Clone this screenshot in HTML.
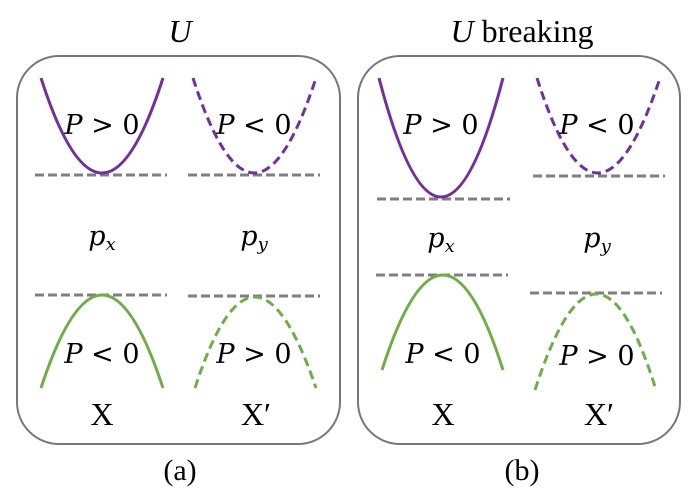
<!DOCTYPE html>
<html><head><style>body{margin:0;background:#fff}</style></head><body>
<svg width="697" height="499" viewBox="0 0 697 499" xmlns="http://www.w3.org/2000/svg">
<g font-family="Liberation Serif, serif" fill="#000">
<text x="180" y="42" font-size="32" font-style="italic" text-anchor="middle">U</text>
<text x="522" y="42" font-size="32" text-anchor="middle"><tspan font-style="italic">U</tspan> breaking</text>
<text x="180" y="480" font-size="30" text-anchor="middle">(a)</text>
<text x="522" y="480" font-size="30" text-anchor="middle">(b)</text>
</g>
<rect x="17" y="56" width="323" height="388" rx="42" fill="none" stroke="#777" stroke-width="2"/>
<rect x="358" y="56" width="322" height="388" rx="42" fill="none" stroke="#777" stroke-width="2"/>
<g fill="none" stroke-width="3">
<g stroke="#7f7f7f" stroke-dasharray="9,4">
<line x1="35" y1="175" x2="167" y2="175"/><line x1="188" y1="175" x2="320" y2="175"/>
<line x1="35" y1="295" x2="167" y2="295"/><line x1="188" y1="296" x2="320" y2="296"/>
<line x1="377" y1="199" x2="510" y2="199"/><line x1="533" y1="176" x2="665" y2="176"/>
<line x1="376" y1="275" x2="508" y2="275"/><line x1="530" y1="293" x2="662" y2="293"/>
</g>
<g stroke="#7030a0">
<path d="M41 78 Q102 268 163 78"/>
<path d="M193 78 Q254 268 316 78" stroke-dasharray="9,5"/>
<path d="M379 78 Q441 316 503 78"/>
<path d="M537 78 Q597 268 660 78" stroke-dasharray="9,5"/>
</g>
<g stroke="#70ad47">
<path d="M41 388 Q102 202 163 388"/>
<path d="M195 388 Q254 206 316 388" stroke-dasharray="9,5"/>
<path d="M382 370 Q443 180 503 370"/>
<path d="M535 390 Q597 198 656 390" stroke-dasharray="9,5"/>
</g>
</g>
<g font-family="DejaVu Serif, Liberation Serif, serif" font-size="27" text-anchor="middle" fill="#000">
<text x="102" y="134"><tspan font-style="italic">P</tspan> &gt; 0</text>
<text x="254" y="134"><tspan font-style="italic">P</tspan> &lt; 0</text>
<text x="441" y="134"><tspan font-style="italic">P</tspan> &gt; 0</text>
<text x="597" y="134"><tspan font-style="italic">P</tspan> &lt; 0</text>
<text x="102" y="363"><tspan font-style="italic">P</tspan> &lt; 0</text>
<text x="254" y="363"><tspan font-style="italic">P</tspan> &gt; 0</text>
<text x="443" y="363"><tspan font-style="italic">P</tspan> &lt; 0</text>
<text x="597" y="365"><tspan font-style="italic">P</tspan> &gt; 0</text>
<g font-style="italic">
<text x="102" y="245">p<tspan font-size="18" dy="5">x</tspan></text>
<text x="254" y="245">p<tspan font-size="18" dy="5">y</tspan></text>
<text x="441" y="247">p<tspan font-size="18" dy="5">x</tspan></text>
<text x="597" y="247">p<tspan font-size="18" dy="5">y</tspan></text>
</g>
</g>
<g font-family="Liberation Serif, serif" font-size="32" text-anchor="middle" fill="#000">
<text x="102" y="425">X</text><text x="256" y="425">X′</text>
<text x="443" y="425">X</text><text x="599" y="425">X′</text>
</g>
</svg>
</body></html>
